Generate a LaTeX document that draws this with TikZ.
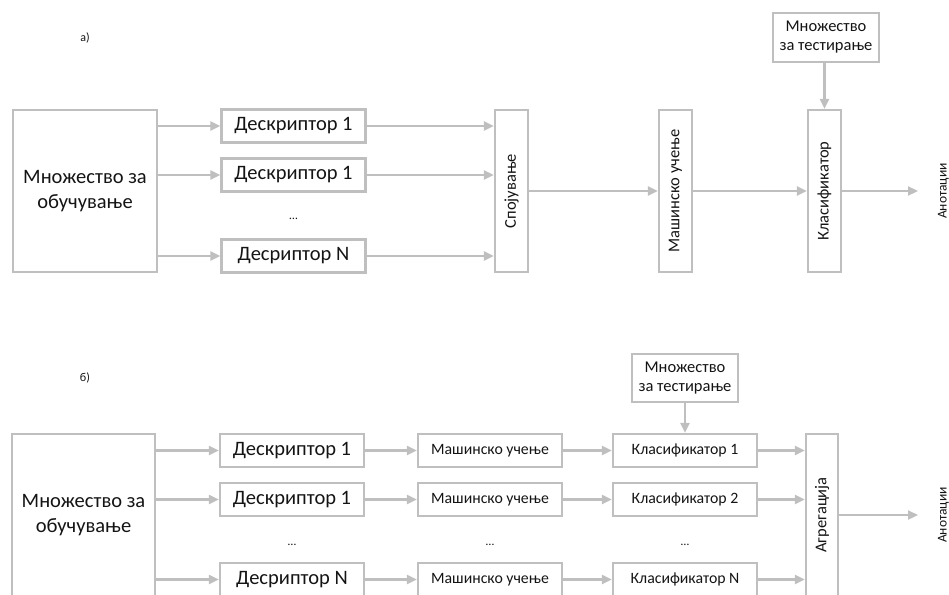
\documentclass[tikz,border=0pt]{standalone}
\usepackage{fontspec}
\setmainfont{Carlito}
\usepackage{xcolor}
\usetikzlibrary{arrows.meta}
\usetikzlibrary{math}
\definecolor{mygray}{RGB}{191,191,191}
\definecolor{mytext}{RGB}{20,20,20}

\begin{document}
\begin{tikzpicture}[x=1pt, y=-1pt,
  box/.style={draw=mygray, line width=2.2, align=center, inner sep=0pt, text=mytext},
  conn/.style={-{Triangle[length=10pt,width=9pt]}, draw=mygray, fill=mygray, line width=2.2},
  bigtext/.style={font=\fontsize{20.5}{25}\selectfont},
  midtext/.style={font=\fontsize{16.5}{19}\selectfont},
  smalltext/.style={font=\fontsize{15.8}{18}\selectfont},
  tinytext/.style={font=\fontsize{12}{14}\selectfont, text=mytext},
  outtext/.style={font=\fontsize{13.5}{16}\selectfont, text=mytext, rotate=90, anchor=base, inner sep=0pt}]
\tikzmath{
\boxw=144;
\boxh=33;
\tallh=162;
\thinw=33;
}
\useasboundingbox (0,0) rectangle (949,594);
\clip (0,0) rectangle (949,594);

% a)
\node[tinytext] (laba) at (85,38) {а)};
\node[box, bigtext, minimum width=\boxw, minimum height=\tallh] (traina) at (85,191) {Множество за\\обучување};
\node[box, bigtext, minimum width=\boxw, minimum height=\boxh] (desca1) at (293.5,126) {Дескриптор 1};
\node[box, bigtext, minimum width=\boxw, minimum height=\boxh] (desca2) at (293.5,175) {Дескриптор 1};
\node[tinytext] (dotsa) at (293.5,219) {…};
\node[box, bigtext, minimum width=\boxw, minimum height=\boxh] (desca3) at (293.5,256) {Десриптор N};
\node[box, midtext, minimum width=\thinw, minimum height=\tallh] (spoja) at (511.5,191) {\rotatebox{90}{Спојување}};
\node[box, midtext, minimum width=\thinw, minimum height=\tallh] (masha) at (675.5,191) {\rotatebox{90}{Машинско учење}};
\node[box, midtext, minimum width=\thinw, minimum height=\tallh] (klasa) at (824.5,191) {\rotatebox{90}{Класификатор}};
\node[box, midtext, minimum width=106, minimum height=49] (testa) at (826,37.5) {Множество\\за тестирање};
\node[outtext] (anota) at (946.5,191) {Анотации};
\coordinate (outa) at (918,191);

\draw[conn] (traina.east |- desca1.west) -- (desca1.west);
\draw[conn] (traina.east |- desca2.west) -- (desca2.west);
\draw[conn] (traina.east |- desca3.west) -- (desca3.west);
\draw[conn] (desca1.east) -- (desca1.east -| spoja.west);
\draw[conn] (desca2.east) -- (desca2.east -| spoja.west);
\draw[conn] (desca3.east) -- (desca3.east -| spoja.west);
\draw[conn] (spoja.east) -- (masha.west);
\draw[conn] (masha.east) -- (klasa.west);
\draw[conn] (testa.south -| klasa.north) -- (klasa.north);
\draw[conn] (klasa.east) -- (outa);

% b)
\node[tinytext] (labb) at (85,378) {б)};
\node[box, bigtext, minimum width=143, minimum height=\tallh] (trainb) at (83.5,515) {Множество за\\обучување};
\node[box, bigtext, minimum width=\boxw, minimum height=\boxh] (descb1) at (292,450.5) {Дескриптор 1};
\node[box, bigtext, minimum width=\boxw, minimum height=\boxh] (descb2) at (292,499.5) {Дескриптор 1};
\node[tinytext] (dotsb1) at (292,545) {…};
\node[box, bigtext, minimum width=\boxw, minimum height=\boxh] (descb3) at (292,579.5) {Десриптор N};
\node[box, smalltext, minimum width=\boxw, minimum height=\boxh] (mashb1) at (490,450.5) {Машинско учење};
\node[box, smalltext, minimum width=\boxw, minimum height=\boxh] (mashb2) at (490,499.5) {Машинско учење};
\node[tinytext] (dotsb2) at (490,545) {…};
\node[box, smalltext, minimum width=\boxw, minimum height=\boxh] (mashb3) at (490,579.5) {Машинско учење};
\node[box, smalltext, minimum width=\boxw, minimum height=\boxh] (klasb1) at (685,450.5) {Класификатор 1};
\node[box, smalltext, minimum width=\boxw, minimum height=\boxh] (klasb2) at (685,499.5) {Класификатор 2};
\node[tinytext] (dotsb3) at (685,545) {…};
\node[box, smalltext, minimum width=\boxw, minimum height=\boxh] (klasb3) at (685,579.5) {Класификатор N};
\node[box, midtext, minimum width=32, minimum height=\tallh] (aggb) at (822,515) {\rotatebox{90}{Агрегација}};
\node[box, midtext, minimum width=106, minimum height=48] (testb) at (685,378) {Множество\\за тестирање};
\node[outtext] (anotb) at (946.5,515) {Анотации};
\coordinate (outb) at (918,515);

\draw[conn] (trainb.east |- descb1.west) -- (descb1.west);
\draw[conn] (trainb.east |- descb2.west) -- (descb2.west);
\draw[conn] (trainb.east |- descb3.west) -- (descb3.west);
\draw[conn] (descb1.east) -- (mashb1.west);
\draw[conn] (descb2.east) -- (mashb2.west);
\draw[conn] (descb3.east) -- (mashb3.west);
\draw[conn] (mashb1.east) -- (klasb1.west);
\draw[conn] (mashb2.east) -- (klasb2.west);
\draw[conn] (mashb3.east) -- (klasb3.west);
\draw[conn] (klasb1.east) -- (klasb1.east -| aggb.west);
\draw[conn] (klasb2.east) -- (klasb2.east -| aggb.west);
\draw[conn] (klasb3.east) -- (klasb3.east -| aggb.west);
\draw[conn] (testb.south) -- (klasb1.north);
\draw[conn] (aggb.east) -- (outb);
\end{tikzpicture}
\end{document}
